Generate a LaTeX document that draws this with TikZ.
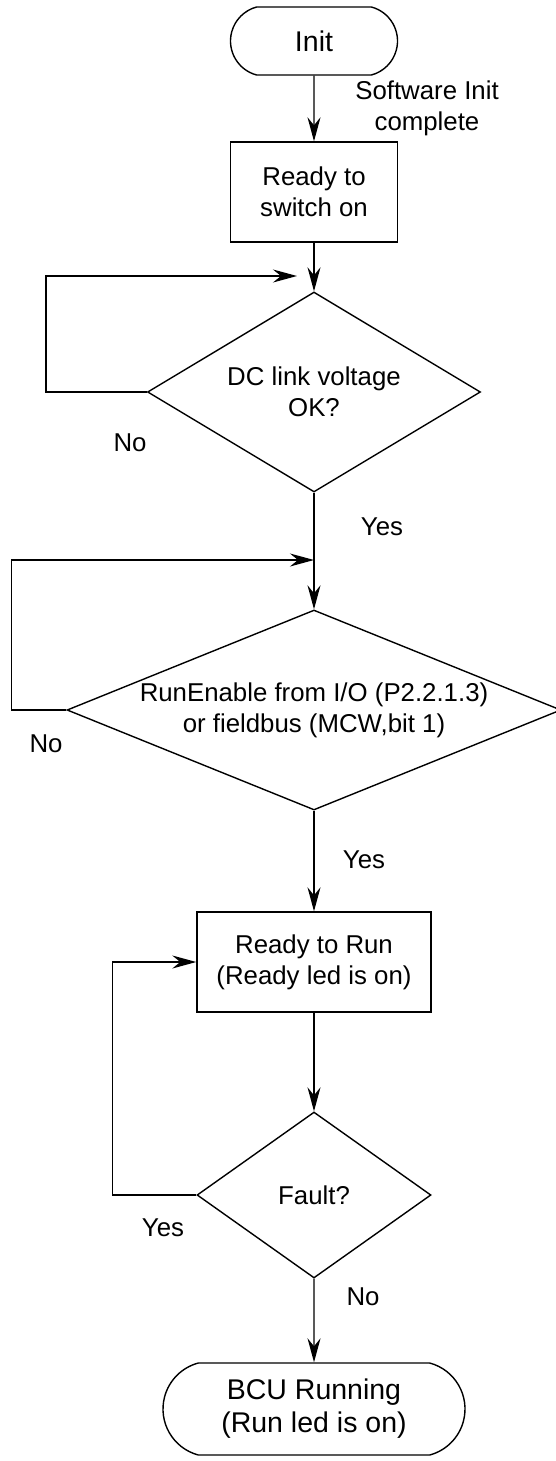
\documentclass[tikz,border=0pt]{standalone}
\usepackage{fontspec}
\setmainfont{Liberation Sans}
\usetikzlibrary{shapes.geometric,shapes.misc,arrows.meta}
\begin{document}
\begin{tikzpicture}[x=1pt,y=-1pt,
  line width=1.4pt,
  every node/.style={font=\fontsize{25.8}{31}\selectfont, align=center, inner sep=0pt},
  term/.style={draw, rounded rectangle, rounded rectangle arc length=150, font=\fontsize{28.5}{33}\selectfont},
  proc/.style={draw, rectangle},
  dec/.style={draw, diamond},
  arr/.style={-{Stealth[length=24pt,width=13pt,inset=8pt]}}
]
\useasboundingbox (0,0) rectangle (556,1461);
\node[term, minimum width=167pt, minimum height=68pt] (init) at (314,41) {Init};
\node (swi) at (427,108) {Software Init\\complete};
\node[proc, minimum width=167pt, minimum height=100pt] (b1) at (314,192) {Ready to\\switch on};
\node[dec, minimum width=333pt, minimum height=200pt] (d1) at (314,392) {};
\node (d1t) at (d1) {DC link voltage\\OK?};
\node (no1) at (130,443) {No};
\node (yes1) at (382,527) {Yes};
\node[dec, minimum width=494pt, minimum height=200pt] (d2) at (314,710) {};
\node (d2t) at (d2) {RunEnable from I/O (P2.2.1.3)\\or fieldbus (MCW,bit 1)};
\node (no2) at (46,744) {No};
\node (yes2) at (364,860) {Yes};
\node[proc, minimum width=234pt, minimum height=100pt] (b2) at (314,962) {Ready to Run\\(Ready led is on)};
\node[dec, minimum width=234pt, minimum height=166pt] (d3) at (314,1195) {};
\node (d3t) at (d3) {Fault?};
\node (yes3) at (163,1228) {Yes};
\node (no3) at (363,1297) {No};
\node[term, minimum width=302pt, minimum height=92pt] (bcu) at (314,1409) {BCU Running\\(Run led is on)};
\coordinate (m1) at (297,276);
\coordinate (m2) at (314,560);
\draw[arr] (init) -- (b1);
\draw[arr] (b1) -- (d1);
\draw[arr] (d1) -- (d2);
\draw[arr] (d2) -- (b2);
\draw[arr] (b2) -- (d3);
\draw[arr] (d3) -- (bcu);
\draw[arr] (d1.west) -- ++(-101,0) |- (m1);
\draw[arr] (d2.west) -- ++(-55,0) |- (m2);
\draw[arr] (d3.west) -- ++(-84,0) |- (b2.west);
\end{tikzpicture}
\end{document}
